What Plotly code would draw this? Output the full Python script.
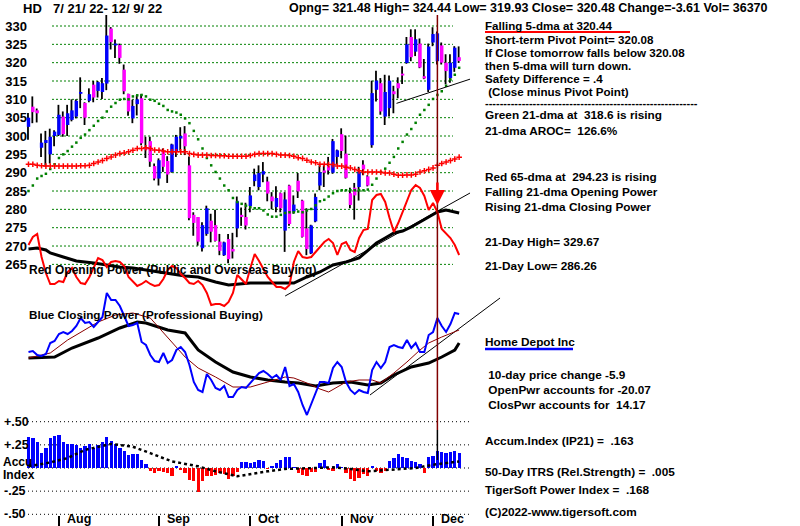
import plotly.graph_objects as go

W, H = 800, 526

# ---------------- data ----------------
ticker = "HD"
date_range = "7/ 21/ 22- 12/ 9/ 22"
bar_idx = list(range(100))

opens = [302.5, 308, 307, 296.8, 298.1, 295, 300, 300.3, 305.3, 303,
         304.4, 305.3, 311.5, 309, 309.6, 314, 312.3, 312, 314.3, 329.3,
         324.7, 324.8, 318.1, 311.5, 304.8, 308.7, 310.3, 297, 298.6, 291.8,
         288.4, 296.1, 293.2, 290.2, 295.7, 299.3, 300.7, 292, 278.5, 277.9,
         269.4, 273.3, 276.9, 275.7, 271.2, 267.5, 271.9, 269.2, 274.8, 278.5,
         277.9, 280.9, 287.7, 286.1, 289.5, 287.6, 283.5, 280.6, 284.4, 274.2,
         286.5, 279.4, 287.8, 282.4, 274.8, 268, 276.7, 286.5, 290.6, 291.8,
         290, 294.3, 300.5, 295.2, 284.4, 285.9, 286.1, 292.2, 289, 297.5,
         312.6, 314.4, 305.3, 307.6, 312.2, 314.4, 317, 319.9, 327, 323,
         325.2, 316.3, 312.6, 325.5, 320.4, 324.7, 320, 315.8, 318.6, 321.48]
highs = [306.3, 310.8, 307.5, 300.7, 301.4, 302, 301.6, 308.5, 306.7, 308.5,
         310, 310, 316, 309.2, 313, 315, 315, 315.8, 333, 329.7,
         326.3, 325.2, 319.5, 311.5, 309.9, 311.2, 311.4, 299.8, 299.8, 292.5,
         293.9, 296.6, 294.5, 297.9, 300.3, 302.4, 302.7, 294.4, 279.2, 277.9,
         276.5, 281, 278.8, 279.9, 273.3, 271.2, 273.3, 273.6, 283.5, 280.5,
         281.8, 286.1, 291.1, 292, 292.9, 288.9, 284.7, 286.3, 284.6, 284.7,
         286.7, 283.8, 289.9, 282.6, 280.3, 275.8, 284.3, 292, 292, 294.3,
         299.2, 296.3, 302.1, 300.1, 285.9, 287.2, 291.6, 293.4, 289.3, 315.1,
         317.8, 315.8, 316.7, 316.5, 313.7, 316, 319, 327, 329.1, 329.1,
         326.6, 321, 325.2, 329.67, 328.5, 325.5, 322.3, 322.3, 324.5, 324.44]
lows = [299, 303.5, 303.7, 294.3, 291.6, 292.5, 297.2, 300, 299.8, 300,
        304, 304.8, 307.6, 303, 309.2, 309.2, 310.5, 310.1, 312.5, 323.6,
        321.3, 319.7, 311.4, 305.5, 303.5, 305.6, 297.5, 294, 291.6, 287.9,
        286.5, 290.2, 287.2, 290, 294.3, 296, 294.8, 277, 272.8, 270.1,
        268.5, 272.8, 271, 271.2, 267.5, 267.3, 265.3, 266.6, 272.4, 275.5,
        274.5, 279.2, 286.3, 285.2, 287.4, 282.2, 280, 279.2, 279.2, 268.4,
        275.5, 278.8, 283.1, 272.3, 267.5, 267.8, 276.5, 285.2, 286.1, 289.5,
        289.7, 292.2, 293.9, 288.4, 280.3, 277.2, 282.4, 289.3, 286.26, 296.8,
        309.4, 305.8, 303, 305.3, 306.2, 310.3, 314.2, 319.7, 320.4, 321.8,
        318.5, 315.5, 312, 324.5, 319.5, 319.5, 314.1, 314.5, 317.5, 319.93]
closes = [305, 306.5, 306.2, 298.2, 298.9, 299.8, 301.2, 305.8, 300.5, 306.2,
          307, 309.6, 312, 305, 311.4, 310.5, 314.7, 314.4, 327.4, 325.6,
          325.2, 321.3, 312.2, 306.7, 308.2, 310, 298, 296.3, 293, 288.4,
          293.4, 291.6, 289.5, 297.7, 299.8, 300, 297.2, 277.6, 276.3, 271.2,
          275.7, 280.3, 273.9, 271.4, 268.7, 271, 266.4, 268.5, 282.2, 277.9,
          275.6, 283.8, 289.5, 289.9, 290.4, 284.3, 282.2, 283.1, 280.3, 282.7,
          276, 281.3, 284.9, 272.5, 269.2, 275.6, 283.4, 290.1, 290, 290.6,
          298.6, 296.1, 295.9, 288.6, 281.2, 283.8, 290.2, 290.9, 286.5, 311.7,
          315.1, 306.7, 312, 315.1, 311.4, 313, 316.5, 325, 321.5, 326.38,
          318.7, 315.7, 324.4, 327.8, 328, 320, 317.7, 320, 324.09, 320.48]

ma21 = [285, 286.5, 288.4, 289.1, 289.7, 291, 292.3, 294, 295, 295.9,
        297.1, 298.2, 299.5, 300.4, 301.6, 302.8, 304.1, 305, 306.7, 308,
        309, 309.9, 310.1, 310, 310.8, 311.1, 311.2, 310.8, 309.9, 309.6,
        308.8, 308.2, 307.1, 306.7, 306.4, 305.8, 304.8, 303.5, 301.4, 299.1,
        296.6, 294, 292, 290.2, 288.4, 286.5, 285.2, 283.1, 282, 281.5,
        281, 280.6, 280.3, 280.3, 279.7, 278.6, 278, 278, 278.5, 279,
        279.2, 279.2, 279.4, 279.2, 279.7, 280.1, 281.1, 282.2, 282.6, 283.5,
        284.4, 285, 285.2, 285.2, 285.2, 285.2, 285.2, 285.2, 285.4, 286.7,
        288.4, 290.2, 291.1, 292.7, 294.3, 296.6, 298.4, 300.4, 301.9, 303.6,
        305.8, 307.1, 308.5, 310.1, 311.2, 312.2, 313.7, 315.4, 316.7, 318.6]
ma65 = [292.3, 292.3, 292, 291.9, 291.8, 291.8, 291.8, 291.8, 291.8, 291.8,
        291.8, 291.8, 291.9, 291.9, 292, 292.5, 292.9, 293.3, 293.9, 294.3,
        294.8, 295.2, 295.4, 295.7, 296.1, 296.6, 296.6, 296.8, 296.6, 296.2,
        296.1, 295.9, 295.7, 295.7, 295.7, 295.7, 295.7, 295.2, 295, 294.8,
        294.8, 294.8, 294.7, 294.7, 294.6, 294.6, 294.5, 294.5, 294.5, 294.5,
        294.5, 294.7, 295, 295.2, 295.2, 295.2, 295.2, 295, 294.8, 294.8,
        294.7, 294.5, 294.1, 293.9, 293.4, 292.9, 292.7, 292.3, 292.3, 292.2,
        292.2, 291.8, 291.8, 291.5, 291.3, 290.9, 290.5, 290.2, 290.2, 290.2,
        290.2, 290.1, 289.9, 289.9, 289.6, 289.3, 289.3, 289.4, 289.4, 289.6,
        290.2, 290.5, 290.9, 291.3, 292, 292.5, 292.9, 293.3, 293.7, 294.23]

# Red Opening Power (arbitrary units)
open_power = [75, 83, 86, 63, 47, 36, 36, 39, 38, 48,
              52, 43, 37, 36, 43, 53, 62, 60, 53, 58,
              59, 58, 54, 43, 38, 34, 36, 39, 36, 34,
              35, 41, 50, 54, 52, 46, 42, 37, 36, 39,
              35, 27, 15, 16, 16, 14, 18, 27, 45, 41,
              36, 52, 66, 59, 51, 43, 38, 33, 33, 31,
              35, 58, 69, 63, 62, 63, 68, 73, 78, 81,
              77, 65, 76, 78, 70, 68, 82, 90, 91, 120,
              125, 126, 118, 102, 88, 97, 108, 120, 130, 135,
              132, 124, 110, 117, 108, 91, 86, 82, 75, 65]
op_ma_idx = [0, 2, 4, 5, 8, 11, 15, 18, 21, 24, 28, 33, 36, 39, 43, 46, 51, 55,
             61, 64, 67, 70, 73, 76, 78, 80, 82, 84, 86, 88, 90, 92, 94, 96, 98, 99]
op_ma = [71, 72, 70, 67, 63, 59, 57, 55, 53, 52, 49, 46, 44, 43, 38, 35, 37, 37,
         37, 43, 48, 55, 58, 62, 70, 77, 82, 87, 89, 93, 98, 103, 108, 110, 108, 107]
op_trend_idx = [59, 101.5]
op_trend = [24, 127]

# Blue Closing Power (arbitrary units)
close_power = [68, 69, 65, 64, 66, 77, 79, 86, 88, 86,
               89, 94, 102, 97, 98, 93, 98, 103, 127, 120,
               120, 114, 104, 94, 95, 97, 78, 75, 65, 59,
               58, 67, 57, 60, 70, 73, 68, 55, 38, 30,
               28, 46, 40, 32, 30, 34, 23, 23, 30, 33,
               32, 37, 42, 47, 49, 46, 42, 45, 40, 53,
               34, 36, 28, 15, 5, 16, 25, 38, 38, 37,
               52, 58, 53, 38, 30, 26, 30, 28, 27, 50,
               58, 52, 58, 73, 75, 73, 72, 80, 72, 77,
               68, 68, 85, 88, 102, 94, 88, 96, 107, 106]
cp_ma_idx = [0, 5, 9, 13, 16, 20, 24, 28, 32, 36, 39, 43, 47, 51, 55, 59, 61, 64,
             67, 69, 73, 76, 79, 81, 84, 87, 90, 92, 95, 99]
cp_ma = [62, 67, 80, 90, 98, 105, 107, 102, 82, 63, 52, 43, 33, 33, 38, 43, 42, 37,
         31, 28, 38, 40, 40, 37, 47, 58, 70, 77, 83, 90]
cp_ma2_idx = [0, 6, 10, 16, 21, 25, 27, 32, 36, 39, 43, 47, 51, 55, 59, 62, 66, 70,
              74, 78, 81, 84, 88, 92, 95, 98, 99]
cp_ma2 = [62, 63, 72, 82, 92, 98, 97, 90, 87, 70, 58, 48, 43, 40, 38, 37, 34, 37,
          38, 35, 37, 45, 53, 57, 63, 70, 77]
cp_trend_idx = [78.5, 108.4]
cp_trend = [25, 122]

price_trend_idx = [84.6, 101.5]
price_trend = [308.9, 315.5]

# Accumulation index (IP21)
ip21 = [0.332, 0.32, 0.279, 0.16, 0.22, 0.32, 0.35, 0.357, 0.286, 0.26,
        0.26, 0.25, 0.214, 0.24, 0.26, 0.22, 0.25, 0.286, 0.332, 0.296,
        0.26, 0.214, 0.18, 0.143, 0.154, 0.154, 0.082, 0.043, -0.036, -0.054,
        -0.036, -0.046, -0.054, -0.089, 0.025, -0.018, -0.054, -0.125, -0.143, -0.26,
        -0.143, -0.089, -0.082, -0.071, -0.054, -0.06, -0.118, -0.089, -0.046, 0.061,
        0.061, 0.054, 0.061, 0.089, 0.071, -0.01, 0.025, 0.054, 0.082, 0.118,
        0.118, 0.005, -0.054, -0.071, -0.082, -0.046, -0.046, 0.054, 0.089, -0.025,
        -0.03, 0.046, 0.005, -0.054, -0.118, -0.143, -0.107, -0.06, -0.089, 0.018,
        -0.036, -0.054, -0.036, 0.071, 0.107, 0.15, 0.118, 0.107, 0.071, 0.061,
        0.046, -0.054, 0.114, 0.132, 0.186, 0.171, 0.16, 0.168, 0.186, 0.163]
ip_ma_idx = [0, 5, 9, 13, 19, 24, 28, 33, 39, 43, 48, 52, 55, 59, 62, 66, 70, 74,
             78, 82, 85, 89, 93, 96, 99]
ip_ma = [0.018, 0.06, 0.107, 0.196, 0.26, 0.23, 0.16, 0.071, 0.018, -0.036, -0.089,
         -0.054, -0.036, -0.01, -0.008, 0, 0.007, -0.01, -0.036, -0.025, -0.01, 0,
         0.036, 0.054, 0.071]

signal_idx = 94
month_idx = [7, 30, 51, 72, 93]
month_lbl = ["Aug", "Sep", "Oct", "Nov", "Dec"]
price_ticks = list(range(265, 331, 5))
acc_ticks = [0.5, 0.25, 0, -0.25, -0.5]
acc_lbl = ["+.50", "+.25", "", "-.25", "-.50"]

header_vals = "Opng= 321.48 High= 324.44 Low= 319.93 Close= 320.48 Change=-3.61 Vol= 36370"
right_head = "Falling 5-dma at 320.44"
right_lines_top = [
    "Short-term Pivot Point= 320.08",
    "If Close tomorrow falls below 320.08",
    "then 5-dma will turn down.",
    "Safety Difference = .4",
    " (Close minus Pivot Point)",
]
right_mid = ["Green 21-dma at  318.6 is rising", "21-dma AROC=  126.6%",
             "Red 65-dma at  294.23 is rising", "Falling 21-dma Opening Power",
             "Rising 21-dma Closing Power", "21-Day High= 329.67", "21-Day Low= 286.26"]
company = "Home Depot Inc"
right_low = [" 10-day price change -5.9", " OpenPwr accounts for -20.07",
             " ClosPwr accounts for  14.17", "Accum.Index (IP21) =  .163",
             "50-Day ITRS (Rel.Strength) =  .005", "TigerSoft Power Index =  .168",
             "(C)2022-www.tigersoft.com"]

# ---------------- helpers ----------------
def px(x):
    return x / W


def py(y):
    return 1 - y / H

FONT = "Liberation Sans"
BLUE = "#0000FF"
MAG = "#FF00FF"
GREEN = "#008000"

fig = go.Figure()

# wicks
wx, wy = [], []
for i, lo, hi in zip(bar_idx, lows, highs):
    wx += [i - 0.12, i - 0.12, None]
    wy += [lo, hi, None]
fig.add_trace(go.Scatter(x=wx, y=wy, mode="lines", line=dict(color="black", width=1.8),
                         xaxis="x", yaxis="y", hoverinfo="skip"))
# bodies (drawn as thick segments so they sit above the wicks)
for want_up, col in [(True, BLUE), (False, MAG)]:
    bx, by = [], []
    for i, o, c in zip(bar_idx, opens, closes):
        if (c >= o) == want_up:
            lo, hi = min(o, c), max(o, c)
            if hi - lo < 0.4:
                hi = lo + 0.4
            bx += [i, i, None]
            by += [lo, hi, None]
    fig.add_trace(go.Scatter(x=bx, y=by, mode="lines", line=dict(color=col, width=3.4),
                             xaxis="x", yaxis="y", hoverinfo="skip"))
# moving averages
fig.add_trace(go.Scatter(x=bar_idx, y=ma21, mode="markers",
                         marker=dict(symbol="square", size=2.5, color=GREEN, line=dict(width=0)),
                         xaxis="x", yaxis="y"))
fig.add_trace(go.Scatter(x=bar_idx, y=ma65, mode="markers",
                         marker=dict(symbol="cross-thin", size=4,
                                     line=dict(width=1.5, color="#FF0000")),
                         xaxis="x", yaxis="y"))
fig.add_trace(go.Scatter(x=price_trend_idx, y=price_trend, mode="lines",
                         line=dict(color="black", width=1), xaxis="x", yaxis="y"))

# opening power
fig.add_trace(go.Scatter(x=op_trend_idx, y=op_trend, mode="lines",
                         line=dict(color="black", width=1), xaxis="x", yaxis="y2"))
fig.add_trace(go.Scatter(x=op_ma_idx, y=op_ma, mode="lines",
                         line=dict(color="black", width=3), xaxis="x", yaxis="y2"))
fig.add_trace(go.Scatter(x=bar_idx, y=open_power, mode="lines",
                         line=dict(color="#FF0000", width=2), xaxis="x", yaxis="y2"))

# closing power
fig.add_trace(go.Scatter(x=cp_trend_idx, y=cp_trend, mode="lines",
                         line=dict(color="black", width=1), xaxis="x", yaxis="y3"))
fig.add_trace(go.Scatter(x=cp_ma2_idx, y=cp_ma2, mode="lines",
                         line=dict(color="black", width=3), xaxis="x", yaxis="y3"))
fig.add_trace(go.Scatter(x=cp_ma_idx, y=cp_ma, mode="lines",
                         line=dict(color="#8B0000", width=1), xaxis="x", yaxis="y3"))
fig.add_trace(go.Scatter(x=bar_idx, y=close_power, mode="lines",
                         line=dict(color=BLUE, width=2), xaxis="x", yaxis="y3"))

# accumulation index
acols = [BLUE if v >= 0 else "#FF0000" for v in ip21]
fig.add_trace(go.Bar(x=bar_idx, y=ip21, marker=dict(color=acols, line=dict(width=0)),
                     width=0.76, xaxis="x", yaxis="y4"))
fig.add_trace(go.Scatter(x=ip_ma_idx, y=ip_ma, mode="lines",
                         line=dict(color="black", width=2.5, dash="dot"), xaxis="x", yaxis="y4"))

shapes = []
for t in price_ticks:
    shapes.append(dict(type="line", xref="paper", yref="y", x0=px(52), x1=px(453), y0=t, y1=t,
                       line=dict(color=GREEN, width=1, dash="2px,2px"), layer="below"))
for t in acc_ticks:
    shapes.append(dict(type="line", xref="paper", yref="y4", x0=px(28), x1=px(472), y0=t, y1=t,
                       line=dict(color="black", width=1, dash="1px,3px"), layer="below"))
shapes.append(dict(type="line", xref="x", yref="paper", x0=signal_idx, x1=signal_idx,
                   y0=py(430), y1=py(15), line=dict(color="#800000", width=1.5)))
shapes.append(dict(type="line", xref="x", yref="paper", x0=signal_idx, x1=signal_idx,
                   y0=py(460), y1=py(430), line=dict(color="black", width=1.5)))
# underlines
shapes.append(dict(type="line", xref="paper", yref="paper", x0=px(485), x1=px(630),
                   y0=py(32), y1=py(32), line=dict(color="#FF0000", width=2)))
shapes.append(dict(type="line", xref="paper", yref="paper", x0=px(485), x1=px(573),
                   y0=py(349), y1=py(349), line=dict(color=BLUE, width=2.5)))

ann = []


def txt(x, y, s, size=12, color="black"):
    ann.append(dict(x=px(x), y=py(y), xref="paper", yref="paper", text=s, showarrow=False,
                    xanchor="left", yanchor="middle", borderpad=0,
                    font=dict(family=FONT, size=size, color=color, weight="bold")))

txt(22, 8, ticker, 13)
txt(52, 8, date_range, 13)
txt(288, 8, header_vals, 12.5)

txt(484, 25, right_head, 11.6)
for s, y in zip(right_lines_top, [40, 52.5, 65.5, 78.5, 91.5]):
    txt(484, y, s, 11.6)
txt(484, 103, "-" * 58, 11)
for s, y in zip(right_mid, [115, 131, 177, 192, 207, 242, 266]):
    txt(484, y, s, 11.8)
txt(484, 342, company, 11.8)
for s, y in zip(right_low, [375, 390, 405, 441, 472, 490, 512]):
    txt(484, y, s, 11.8)

txt(28, 270, "Red Opening Power (Public and Overseas Buying)", 12)
txt(28, 314, "Blue Closing Power (Professional Buying)", 11.7)

for t, s in zip(acc_ticks, acc_lbl):
    if s:
        ann.append(dict(x=px(2), y=t, xref="paper", yref="y4", text=s, showarrow=False,
                        xanchor="left", yanchor="middle",
                        font=dict(family=FONT, size=12.5, color="black", weight="bold")))
txt(2, 462, "Accu", 12)
txt(2, 475, "Index", 12)

for m, s in zip(month_idx, month_lbl):
    ann.append(dict(x=m, y=py(518.5), xref="x", yref="paper", text=s, showarrow=False,
                    xanchor="left", yanchor="middle", xshift=6,
                    font=dict(family=FONT, size=12.5, color="black", weight="bold")))

# signal arrow
ann.append(dict(x=signal_idx, y=115, xref="x", yref="y2", text="", showarrow=True,
                ax=0, ay=-24, arrowhead=2, arrowsize=1.2, arrowwidth=2.5, arrowcolor="#FF0000"))

fig.update_layout(
    width=W, height=H, margin=dict(l=0, r=0, t=0, b=0),
    paper_bgcolor="white", plot_bgcolor="rgba(0,0,0,0)",
    showlegend=False, barmode="overlay", bargap=0,
    shapes=shapes, annotations=ann,
    xaxis=dict(domain=[0, 1], range=[-28.5 / 4.35, (W - 28.5) / 4.35], anchor="y4",
               showgrid=False, zeroline=False, showline=False,
               tickvals=month_idx, ticks="outside", ticklen=11, tickwidth=1.5,
               tickcolor="black", showticklabels=False),
    yaxis=dict(domain=[py(282), py(14)], range=[330 - 256 / 3.667, 330 + 12 / 3.667],
               anchor="free", position=px(27), showgrid=False, zeroline=False,
               showline=False, tickvals=price_ticks, ticks="",
               tickfont=dict(family=FONT, size=13, color="black", weight="bold")),
    yaxis2=dict(domain=[py(320), py(180)], range=[0, 140], visible=False, anchor="x"),
    yaxis3=dict(domain=[py(420), py(285)], range=[0, 135], visible=False, anchor="x"),
    yaxis4=dict(domain=[py(515), py(418)], range=[-0.5076, 0.54], showticklabels=False,
                showgrid=False, zeroline=False, showline=False, anchor="x"),
)

fig.write_html("out.html", config={"displayModeBar": False},
               post_script="document.body.style.margin='0px';document.body.style.overflow='hidden';")
